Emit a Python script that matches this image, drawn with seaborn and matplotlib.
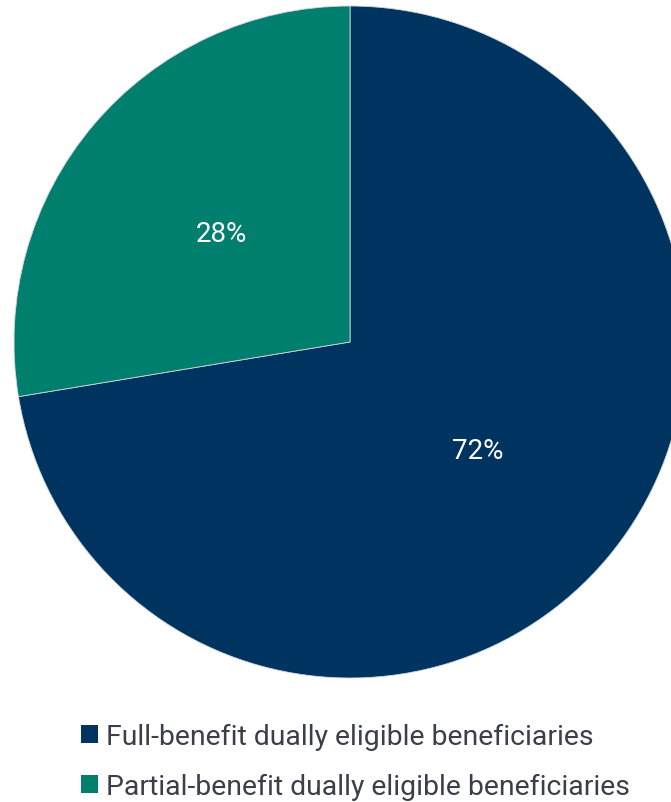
import matplotlib.pyplot as plt
import seaborn as sns

# Share of dually eligible beneficiaries (percent)
categories = [
    "Full-benefit dually eligible beneficiaries",
    "Partial-benefit dually eligible beneficiaries",
]
shares = [72.4, 27.6]
colors = ["#003460", "#007F6E"]

sns.set_theme(style="white")
plt.rcParams["font.family"] = ["Roboto", "DejaVu Sans"]

fig = plt.figure(figsize=(6.71, 8.03), dpi=100)
# square axes so the pie has radius ~336 px centred at (350, 343)
ax = fig.add_axes([14 / 671, 124 / 803, 672 / 671, 672 / 803])

wedges, _, autotexts = ax.pie(
    shares,
    colors=colors,
    startangle=90,
    counterclock=False,
    radius=1,
    autopct="%.0f%%",
    pctdistance=0.5,
    wedgeprops=dict(edgecolor="#d0d6dc", linewidth=0.6),
    textprops=dict(color="white", fontsize=20),
)
ax.set_xlim(-1, 1)
ax.set_ylim(-1, 1)
ax.set_aspect("equal")
ax.axis("off")
for w in wedges:
    w.set_clip_on(False)

leg = fig.legend(
    wedges,
    categories,
    loc="upper left",
    bbox_to_anchor=(81 / 671, 1 - 724 / 803),
    frameon=False,
    fontsize=20.4,
    handlelength=0.6,
    handleheight=0.6,
    handletextpad=0.3,
    labelspacing=0.8,
    borderpad=0,
    borderaxespad=0,
)
for t in leg.get_texts():
    t.set_color("#3b3f4a")
for h in leg.legend_handles:
    h.set_edgecolor("none")

fig.savefig("out.png", dpi=100)
